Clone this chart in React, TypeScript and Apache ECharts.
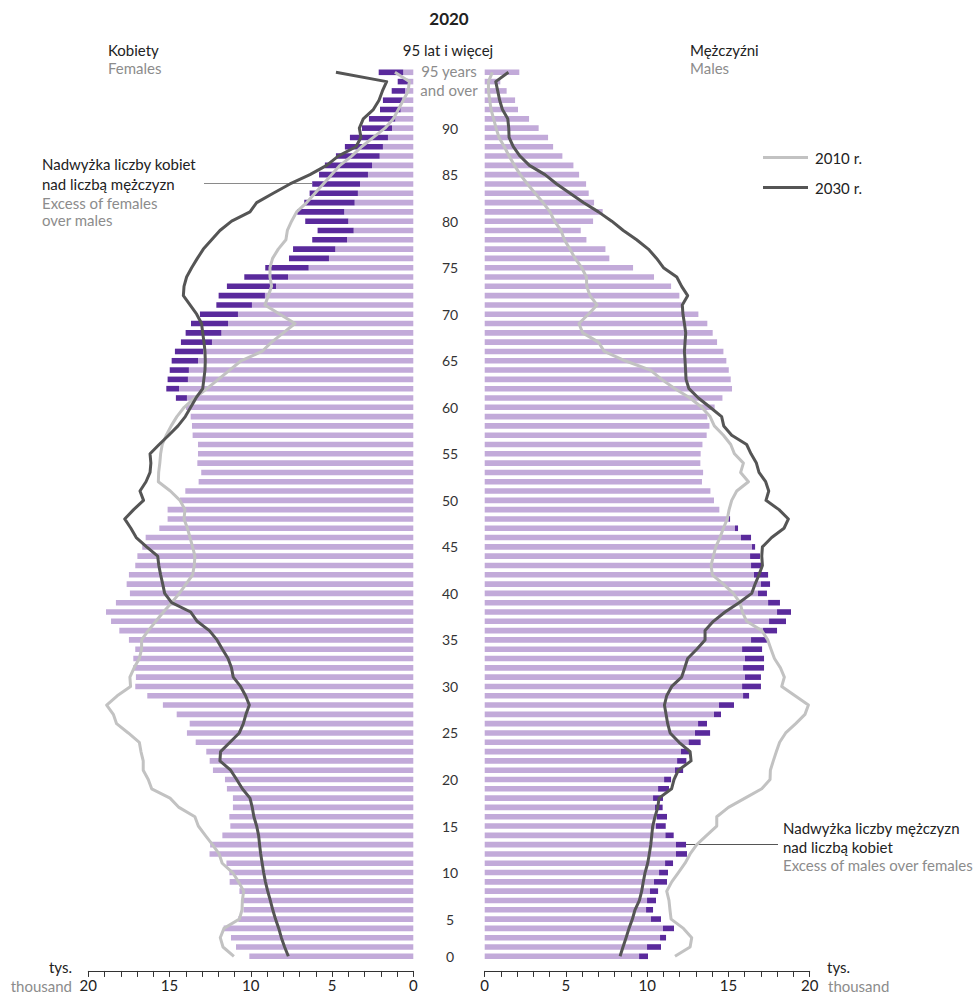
import React, { useEffect, useRef } from "react";
import * as echarts from "echarts";

// ---------- DATA (ages 0 .. 95+, bottom to top) ----------
const ages: string[] = [
  "0","1","2","3","4","5","6","7","8","9",
  "10","11","12","13","14","15","16","17","18","19",
  "20","21","22","23","24","25","26","27","28","29",
  "30","31","32","33","34","35","36","37","38","39",
  "40","41","42","43","44","45","46","47","48","49",
  "50","51","52","53","54","55","56","57","58","59",
  "60","61","62","63","64","65","66","67","68","69",
  "70","71","72","73","74","75","76","77","78","79",
  "80","81","82","83","84","85","86","87","88","89",
  "90","91","92","93","94","95+",
];

// Females 2020 (thousand): full bar length
const femaleTotal: number[] = [
  10.09, 10.91, 11.22, 11.67, 10.77, 10.45, 10.5, 10.7, 11.3, 11.32,
  11.5, 12.54, 12.5, 11.75, 11.26, 11.32, 11.1, 11.1, 11.47, 11.59,
  12.33, 12.53, 12.74, 13.39, 13.93, 13.76, 14.56, 15.41, 16.37, 17.11,
  17.07, 17.23, 17.23, 17.11, 17.5, 18.09, 18.6, 18.91, 18.3, 17.44,
  17.64, 17.5, 17.11, 16.98, 16.68, 16.47, 15.63, 15.12, 15.12, 14.36,
  14.03, 13.21, 13.05, 13.29, 13.25, 13.25, 13.58, 13.62, 13.7, 13.99,
  14.61, 15.2, 15.12, 14.99, 14.87, 14.67, 14.3, 14.01, 13.68, 13.13,
  12.12, 11.98, 11.47, 10.4, 9.11, 7.65, 7.4, 6.22, 5.89, 6.65,
  7.14, 6.71, 6.38, 6.22, 5.8, 5.44, 4.76, 4.21, 3.9, 3.16,
  2.73, 2.05, 1.87, 1.33, 0.96, 2.13,
];
// Excess of females over males (dark part)
const femaleExcess: number[] = [
  0, 0, 0, 0, 0, 0, 0, 0, 0, 0,
  0, 0, 0, 0, 0, 0, 0, 0, 0, 0,
  0, 0, 0, 0, 0, 0, 0, 0, 0, 0,
  0, 0, 0, 0, 0, 0, 0, 0, 0, 0,
  0, 0, 0, 0, 0, 0, 0, 0, 0, 0,
  0, 0, 0, 0, 0, 0, 0, 0, 0, 0,
  0.68, 0.78, 1.25, 1.18, 1.62, 1.73, 1.91, 2.2, 2.28, 2.34,
  2.19, 2.85, 3.02, 2.69, 2.67, 2.46, 2.6, 2.14, 2.22, 2.65,
  2.89, 3.1, 2.97, 2.94, 3.01, 2.9, 2.69, 2.34, 2.34, 1.85,
  1.62, 1.27, 1.21, 0.82, 0.65, 1.51,
];
// Males 2020 (thousand): full bar length
const maleTotal: number[] = [
  10.05, 10.85, 11.16, 11.65, 10.85, 10.36, 10.54, 10.67, 11.22, 11.28,
  11.59, 12.45, 12.39, 11.63, 11.14, 11.22, 10.95, 10.97, 11.34, 11.47,
  12.21, 12.41, 12.57, 13.29, 13.87, 13.68, 14.54, 15.34, 16.27, 17.0,
  17.0, 17.19, 17.19, 17.07, 17.37, 17.99, 18.54, 18.85, 18.17, 17.37,
  17.56, 17.44, 17.09, 16.94, 16.64, 16.39, 15.59, 15.1, 14.44, 14.11,
  13.89, 13.37, 13.44, 13.27, 13.29, 13.4, 13.66, 13.83, 13.7, 14.15,
  14.63, 15.22, 15.14, 15.02, 14.87, 14.69, 14.3, 14.03, 13.7, 13.15,
  12.12, 11.98, 11.47, 10.42, 9.13, 7.67, 7.43, 6.26, 5.91, 6.67,
  7.26, 6.73, 6.4, 6.24, 5.81, 5.46, 4.78, 4.21, 3.9, 3.32,
  2.73, 2.05, 1.87, 1.35, 0.96, 2.13,
];
// Excess of males over females (dark part)
const maleExcess: number[] = [
  0.55, 0.86, 0.37, 0.68, 0.62, 0.43, 0.55, 0.5, 0.8, 0.55,
  0.49, 0.68, 0.62, 0.51, 0.6, 0.62, 0.47, 0.61, 0.67, 0.43,
  0.5, 0.57, 0.49, 0.74, 0.93, 0.55, 0.43, 0.92, 0.37, 1.16,
  0.98, 1.29, 1.17, 1.23, 0.98, 0.86, 1.04, 0.86, 0.73, 0.55,
  0.56, 0.87, 0.7, 0.61, 0.19, 0.62, 0.19, 0.1, 0, 0,
  0, 0, 0, 0, 0, 0, 0, 0, 0, 0,
  0, 0, 0, 0, 0, 0, 0, 0, 0, 0,
  0, 0, 0, 0, 0, 0, 0, 0, 0, 0,
  0, 0, 0, 0, 0, 0, 0, 0, 0, 0,
  0, 0, 0, 0, 0, 0,
];

// Lines: 2010 and 2030
const female2010: number[] = [
  11.04, 11.71, 11.88, 11.65, 10.7, 10.54, 10.52, 10.44, 10.75, 11.12,
  11.76, 11.95, 12.36, 12.8, 13.23, 13.44, 14.42, 14.97, 16.1, 16.31,
  16.62, 16.62, 16.76, 16.86, 17.54, 18.26, 18.46, 18.87, 18.22, 17.4,
  17.44, 17.18, 16.86, 16.72, 16.72, 16.31, 15.84, 15.38, 14.87, 14.4,
  13.99, 13.58, 13.48, 13.44, 13.58, 13.74, 13.9, 14.11, 14.05, 14.36,
  14.95, 15.69, 15.67, 15.6, 15.55, 15.45, 15.2, 14.9, 14.55, 14.1,
  13.45, 12.7, 12.0, 11.3, 10.6, 9.31, 8.72, 8.0, 7.28, 8.21,
  9.13, 8.92, 8.72, 8.82, 8.82, 8.66, 8.31, 7.84, 7.75, 7.49,
  7.18, 6.56, 6.05, 5.54, 5.03, 4.51, 3.79, 3.18, 2.46, 1.74,
  1.23, 0.92, 0.62, 0.31, 0.25, 1.13,
];
const female2030: number[] = [
  7.69, 7.92, 8.12, 8.28, 8.48, 8.65, 8.8, 8.96, 9.1, 9.21,
  9.3, 9.39, 9.46, 9.52, 9.64, 9.81, 9.91, 10.05, 10.52, 10.87,
  11.24, 11.9, 11.86, 11.28, 10.71, 10.46, 10.3, 10.09, 10.32, 10.63,
  11.08, 11.19, 11.4, 11.75, 12.08, 12.55, 13.3, 13.7, 14.87, 15.3,
  15.42, 15.55, 15.66, 15.73, 16.41, 17.05, 17.38, 17.76, 17.21, 16.6,
  16.82, 16.45, 16.2, 16.15, 16.2, 15.64, 15.05, 14.48, 14.03, 13.7,
  13.37, 12.96, 12.89, 12.82, 12.8, 12.82, 12.88, 12.96, 13.03, 13.33,
  13.74, 14.15, 14.11, 13.95, 13.64, 13.29, 12.92, 12.41, 11.9, 11.18,
  10.05, 9.64, 8.62, 7.59, 6.36, 5.33, 4.62, 3.53, 3.22, 3.32,
  3.08, 2.46, 2.11, 1.9, 1.64, 4.76,
];
const male2010: number[] = [
  11.71, 12.64, 12.74, 12.23, 11.47, 11.4, 11.34, 11.2, 11.51, 11.92,
  12.33, 12.64, 13.05, 13.66, 14.28, 14.28, 15.0, 16.02, 17.05, 17.56,
  17.58, 17.76, 17.95, 18.15, 18.52, 19.14, 19.71, 19.92, 19.1, 18.28,
  18.44, 18.2, 17.83, 17.62, 17.42, 17.05, 16.12, 15.86, 15.71, 15.3,
  14.69, 14.01, 13.93, 14.07, 14.22, 14.48, 14.69, 14.93, 15.04, 15.2,
  15.51, 16.23, 15.75, 15.92, 15.37, 15.14, 14.69, 14.13, 13.87, 13.35,
  12.64, 11.71, 10.89, 10.2, 8.64, 7.36, 7.0, 6.03, 5.8, 6.38,
  6.91, 6.48, 6.28, 6.26, 5.97, 5.56, 5.25, 4.9, 4.7, 4.29,
  4.02, 3.59, 3.1, 2.63, 2.19, 1.83, 1.5, 1.21, 0.88, 0.7,
  0.55, 0.39, 0.31, 0.23, 0.23, 0.47,
];
const male2030: number[] = [
  8.33, 8.51, 8.7, 8.88, 9.09, 9.25, 9.52, 9.66, 9.76, 9.87,
  10.03, 10.13, 10.22, 10.28, 10.34, 10.48, 10.65, 10.73, 11.5, 11.65,
  11.92, 12.7, 12.64, 11.96, 11.41, 11.26, 11.16, 11.06, 11.2, 11.51,
  12.12, 12.31, 12.49, 13.05, 13.56, 13.56, 14.07, 14.79, 15.65, 16.43,
  16.64, 16.88, 17.09, 17.05, 17.09, 17.66, 18.42, 18.69, 18.11, 17.31,
  17.48, 17.29, 16.88, 16.72, 16.39, 16.12, 15.2, 14.71, 14.58, 13.87,
  13.15, 12.57, 12.39, 12.36, 12.33, 12.29, 12.33, 12.37, 12.29, 12.2,
  12.16, 12.49, 12.12, 11.82, 11.0, 10.58, 10.07, 9.35, 8.53, 7.82,
  7.0, 6.07, 5.25, 4.43, 3.71, 2.75, 2.17, 1.76, 1.5, 1.48,
  1.42, 1.09, 0.92, 0.8, 0.68, 1.46,
];

const ageTickLabels: number[] = [0, 5, 10, 15, 20, 25, 30, 35, 40, 45, 50, 55, 60, 65, 70, 75, 80, 85, 90];
const xTickLabels: number[] = [0, 5, 10, 15, 20];

// ---------- STYLE ----------
const FONT = "Lato";
const LIGHT = "#c2aad9";
const DARK = "#5a2a9c";
const GRAY10 = "#c2c2c2";
const GRAY30 = "#555555";
const TEXT = "#222222";
const TEXT_GRAY = "#8c8c8c";

const GRID_TOP = 67.65;
const GRID_H = 893.3;
const GRID_W = 325;
const LEFT_X = 88.3;
const RIGHT_X = 484.7;
const BAR_W = 5.6;

export default function App() {
  const ref = useRef<HTMLDivElement>(null);

  useEffect(() => {
    if (!ref.current) return;
    const chart = echarts.init(ref.current, undefined, { renderer: "svg" });

    // age label rows: "0" on first row, others one row below their own age
    const labelAt: Record<number, string> = {};
    ageTickLabels.forEach((a) => {
      labelAt[a === 0 ? 0 : a - 1] = String(a);
    });

    const fLight = femaleTotal.map((t, i) => +(t - femaleExcess[i]).toFixed(2));
    const mLight = maleTotal.map((t, i) => +(t - maleExcess[i]).toFixed(2));

    const xAxisBase = (gridIndex: number, inverse: boolean) => ({
      gridIndex,
      type: "value",
      inverse,
      min: 0,
      max: 20,
      interval: 1,
      position: "bottom",
      offset: 10,
      axisLine: { show: true, lineStyle: { color: "#333", width: 1 } },
      axisTick: { show: true, length: 6, lineStyle: { color: "#333", width: 1 } },
      axisLabel: {
        formatter: (v: number) => (xTickLabels.includes(v) ? String(v) : ""),
        fontSize: 15,
        fontFamily: FONT,
        color: TEXT,
        margin: 7,
      },
      splitLine: { show: false },
    });

    const lineSeries = (name: string, data: number[], color: string, axis: number) => ({
      name,
      type: "line",
      xAxisIndex: axis,
      yAxisIndex: axis,
      data: data.map((v, i) => [v, i]),
      symbol: "none",
      lineStyle: { color, width: 3, join: "round" },
      itemStyle: { color },
      z: 5,
      silent: true,
    });

    const txt = (
      text: string,
      x: number,
      y: number,
      opts: { fill?: string; align?: string; size?: number; weight?: string } = {}
    ) => ({
      type: "text",
      x,
      y,
      silent: true,
      style: {
        text,
        fill: opts.fill || TEXT,
        align: opts.align || "left",
        verticalAlign: "middle",
        fontSize: opts.size || 15,
        fontFamily: FONT,
        fontWeight: opts.weight || "normal",
      },
    });

    const legendBase = {
      left: 763,
      itemWidth: 45,
      itemHeight: 3,
      padding: 0,
      textStyle: { fontSize: 15, fontFamily: FONT, color: TEXT, padding: [0, 0, 0, 2] },
      selectedMode: false,
    };

    const option: any = {
      animation: false,
      grid: [
        { left: LEFT_X, top: GRID_TOP, width: GRID_W, height: GRID_H, containLabel: false },
        { left: RIGHT_X, top: GRID_TOP, width: GRID_W, height: GRID_H, containLabel: false },
      ],
      xAxis: [xAxisBase(0, true), xAxisBase(1, false)],
      yAxis: [
        {
          gridIndex: 0,
          type: "category",
          data: ages,
          axisLine: { show: false },
          axisTick: { show: false },
          axisLabel: { show: false },
        },
        {
          gridIndex: 1,
          type: "category",
          data: ages,
          axisLine: { show: false },
          axisTick: { show: false },
          axisLabel: {
            show: true,
            interval: 0,
            formatter: (_v: string, i: number) => labelAt[i] || "",
            align: "center",
            margin: RIGHT_X - 450,
            fontSize: 14,
            fontFamily: FONT,
            color: "#333",
          },
        },
      ],
      legend: [
        { ...legendBase, data: [{ name: "2010 r.", icon: "rect" }], top: 150 },
        { ...legendBase, data: [{ name: "2030 r.", icon: "rect" }], top: 180 },
      ],
      series: [
        {
          name: "Kobiety",
          type: "bar",
          xAxisIndex: 0,
          yAxisIndex: 0,
          stack: "f",
          data: fLight,
          barWidth: BAR_W,
          itemStyle: { color: LIGHT },
          silent: true,
        },
        {
          name: "Nadwyżka kobiet",
          type: "bar",
          xAxisIndex: 0,
          yAxisIndex: 0,
          stack: "f",
          data: femaleExcess,
          barWidth: BAR_W,
          itemStyle: { color: DARK },
          silent: true,
        },
        {
          name: "Mężczyźni",
          type: "bar",
          xAxisIndex: 1,
          yAxisIndex: 1,
          stack: "m",
          data: mLight,
          barWidth: BAR_W,
          itemStyle: { color: LIGHT },
          silent: true,
        },
        {
          name: "Nadwyżka mężczyzn",
          type: "bar",
          xAxisIndex: 1,
          yAxisIndex: 1,
          stack: "m",
          data: maleExcess,
          barWidth: BAR_W,
          itemStyle: { color: DARK },
          silent: true,
        },
        lineSeries("2010 r.", female2010, GRAY10, 0),
        lineSeries("2030 r.", female2030, GRAY30, 0),
        lineSeries("2010 r.", male2010, GRAY10, 1),
        lineSeries("2030 r.", male2030, GRAY30, 1),
      ],
      graphic: [
        txt("2020", 449, 18, { align: "center", weight: "bold", size: 17 }),
        txt("Kobiety", 108, 50),
        txt("Females", 108, 68, { fill: TEXT_GRAY }),
        txt("Mężczyźni", 690, 50),
        txt("Males", 690, 68, { fill: TEXT_GRAY }),
        txt("95 lat i więcej", 448, 50, { align: "center" }),
        txt("95 years", 449, 71, { align: "center", fill: TEXT_GRAY }),
        txt("and over", 449, 90, { align: "center", fill: TEXT_GRAY }),
        txt("Nadwyżka liczby kobiet", 42, 164),
        txt("nad liczbą mężczyzn", 42, 183.5),
        txt("Excess of females", 42, 203, { fill: TEXT_GRAY }),
        txt("over males", 42, 220, { fill: TEXT_GRAY }),
        {
          type: "line",
          silent: true,
          shape: { x1: 204, y1: 183.5, x2: 312, y2: 183.5 },
          style: { stroke: "#8a8a8a", lineWidth: 1 },
        },
        txt("Nadwyżka liczby mężczyzn", 783, 828),
        txt("nad liczbą kobiet", 783, 846.5),
        txt("Excess of males over females", 783, 865, { fill: TEXT_GRAY }),
        {
          type: "line",
          silent: true,
          shape: { x1: 685, y1: 844.5, x2: 778, y2: 844.5 },
          style: { stroke: "#555", lineWidth: 1 },
        },
        txt("tys.", 72, 967, { align: "right" }),
        txt("thousand", 72, 986, { align: "right", fill: TEXT_GRAY }),
        txt("tys.", 827, 967),
        txt("thousand", 828, 986, { fill: TEXT_GRAY }),
      ],
    };

    chart.setOption(option);
    return () => chart.dispose();
  }, []);

  return (
    <div
      ref={ref}
      style={{ position: "absolute", left: 0, top: 0, width: 973, height: 996, background: "#fff" }}
    />
  );
}
